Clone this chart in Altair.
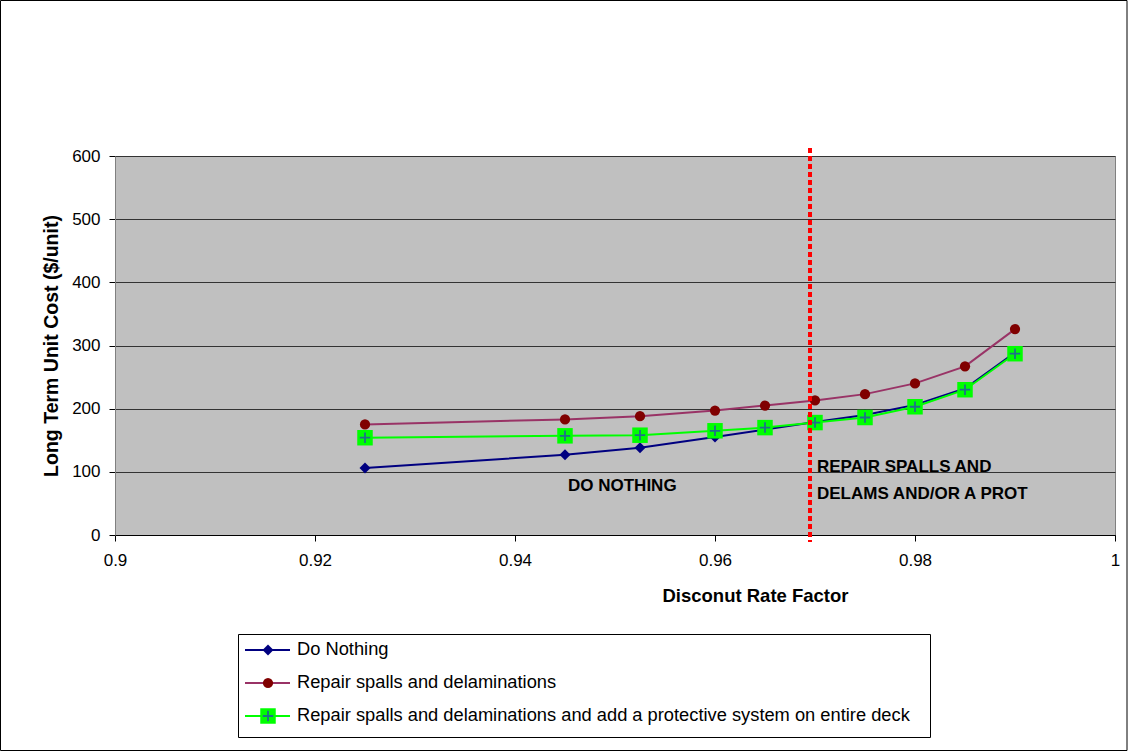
import altair as alt
import pandas as pd

# ---- data ----
discount = [0.925, 0.945, 0.9525, 0.96, 0.965, 0.97, 0.975, 0.98, 0.985, 0.99]
do_nothing = [106, 127, 138, 155, 167, 179, 190, 206, 232, 289]
repair = [175, 183, 188, 197, 205, 213, 223, 240, 267, 326]
repair_protect = [154, 157, 158, 165, 170, 178, 186, 203, 230, 287]

series_names = [
    "Do Nothing",
    "Repair spalls and delaminations",
    "Repair spalls and delaminations and add a protective system on entire deck",
]
line_colors = ["#000080", "#993366", "#00FF00"]
marker_colors = ["#000080", "#800000", "#00FF00"]
plus_color = "#1F6F8B"

break_even = [0.9695]
x_ticks = [0.9, 0.92, 0.94, 0.96, 0.98, 1.0]
y_ticks = [0, 100, 200, 300, 400, 500, 600]

ann_text = ["DO NOTHING", "REPAIR SPALLS AND\nDELAMS AND/OR A PROT"]
ann_x = [0.9453, 0.9702]
ann_y = [70, 99]

FONT = "Liberation Sans"
W, H = 1000, 379

xs = alt.Scale(domain=[0.9, 1.0], nice=False, zero=False)
ys = alt.Scale(domain=[0, 600], nice=False)

xenc = alt.X(
    "x:Q", scale=xs,
    axis=alt.Axis(values=x_ticks, format="~g", title="Disconut Rate Factor",
                  grid=False, tickSize=6, tickColor="#000000", domainColor="#000000",
                  labelFontSize=17, labelPadding=11, labelColor="#000000", labelFlush=False,
                  titleFontSize=18.5, titleFontWeight="bold", titleColor="#000000",
                  titleX=640, titleY=51, titleAnchor="middle"),
)
yenc = alt.Y(
    "v:Q", scale=ys,
    axis=alt.Axis(values=y_ticks, title="Long Term Unit Cost ($/unit)",
                  grid=True, gridColor="#333333", gridWidth=1,
                  tickSize=6, tickColor="#000000", domainColor="#808080",
                  labelFontSize=17, labelPadding=9, labelColor="#000000",
                  titleFontSize=19.5, titleFontWeight="bold", titleColor="#000000",
                  titlePadding=10),
)

all_vals = [do_nothing, repair, repair_protect]
frames = [pd.DataFrame({"x": discount, "v": vals}) for vals in all_vals]

layers = []
# axis carrier
layers.append(alt.Chart(frames[0]).mark_point(opacity=0).encode(x=xenc, y=yenc))

shapes = ["diamond", "circle", "square"]
sizes = [120, 105, 240]
for i, df in enumerate(frames):
    layers.append(alt.Chart(df).mark_line(color=line_colors[i], strokeWidth=2).encode(
        x=alt.X("x:Q", scale=xs), y=alt.Y("v:Q", scale=ys)))
    layers.append(alt.Chart(df).mark_point(shape=shapes[i], filled=True, opacity=1,
                                           color=marker_colors[i], size=sizes[i]).encode(
        x=alt.X("x:Q", scale=xs), y=alt.Y("v:Q", scale=ys)))
    if i == 2:
        layers.append(alt.Chart(df).mark_point(shape="M-1,0H1M0,-1V1", filled=False, opacity=1,
                                               stroke=plus_color, strokeWidth=1.8, size=110).encode(
            x=alt.X("x:Q", scale=xs), y=alt.Y("v:Q", scale=ys)))

# break-even dashed line
layers.append(alt.Chart(pd.DataFrame({"x": break_even})).mark_rule(
    color="#FF0000", strokeWidth=4, strokeDash=[5, 3], clip=False).encode(
    x=alt.X("x:Q", scale=xs), y=alt.value(-8), y2=alt.value(H + 7)))

# annotations
ann_df = pd.DataFrame({"x": ann_x, "v": ann_y, "t": ann_text})
layers.append(alt.Chart(ann_df).mark_text(
    align="left", baseline="alphabetic", font=FONT, fontSize=17, fontWeight="bold",
    color="#000000", lineBreak="\n", lineHeight=27).encode(
    x=alt.X("x:Q", scale=xs), y=alt.Y("v:Q", scale=ys), text="t:N"))

# outer frame of the whole picture
layers.append(alt.Chart(pd.DataFrame({"a": [0]})).mark_rect(
    fill=None, stroke="#000000", strokeWidth=1, clip=False).encode(
    x=alt.value(-114.5), x2=alt.value(1012), y=alt.value(-155.5), y2=alt.value(594.5)))

# legend box
layers.append(alt.Chart(pd.DataFrame({"a": [0]})).mark_rect(
    fill="#FFFFFF", stroke="#000000", strokeWidth=1, clip=False).encode(
    x=alt.value(123.5), x2=alt.value(815.5), y=alt.value(478.5), y2=alt.value(581.5)))

row_y = [494, 527, 560]
for i, name in enumerate(series_names):
    one = pd.DataFrame({"label": [name]})
    layers.append(alt.Chart(one).mark_rule(color=line_colors[i], strokeWidth=2, clip=False).encode(
        x=alt.value(130), x2=alt.value(175), y=alt.value(row_y[i])))
    layers.append(alt.Chart(one).mark_point(shape=shapes[i], filled=True, opacity=1,
                                            color=marker_colors[i], size=sizes[i], clip=False).encode(
        x=alt.value(153), y=alt.value(row_y[i])))
    if i == 2:
        layers.append(alt.Chart(one).mark_point(shape="M-1,0H1M0,-1V1", filled=False, opacity=1,
                                                stroke=plus_color, strokeWidth=1.8, size=110,
                                                clip=False).encode(
            x=alt.value(153), y=alt.value(row_y[i])))
    layers.append(alt.Chart(one).mark_text(align="left", baseline="middle", font=FONT,
                                           fontSize=18.3, color="#000000", clip=False).encode(
        x=alt.value(182), y=alt.value(row_y[i]), text="label:N"))

chart = alt.layer(*layers).properties(
    width=W, height=H,
    autosize=alt.AutoSizeParams(type="none"),
    padding={"left": 115, "top": 156, "right": 13, "bottom": 216},
    background="#FFFFFF",
).configure_view(fill="#C0C0C0", stroke="#808080", strokeWidth=1).configure_axis(
    labelFont=FONT, titleFont=FONT
).configure_text(font=FONT)

chart.save("out.html", embed_options={"renderer": "svg", "actions": False})
